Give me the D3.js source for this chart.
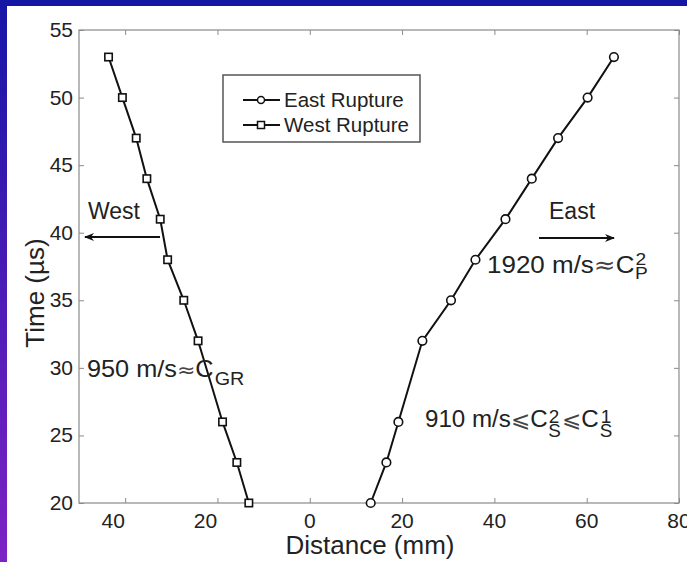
<!DOCTYPE html>
<html>
<head>
<meta charset="utf-8">
<script src="https://cdn.jsdelivr.net/npm/d3@7/dist/d3.min.js"></script>
<style>
html,body{margin:0;padding:0;background:#1515a6;}
svg{display:block;font-family:"Liberation Sans",Arial,sans-serif;}
</style>
</head>
<body>
<svg id="chart" width="687" height="562"></svg>
<script>
// ---- data ----
const eastTimes = [20, 23, 26, 32, 35, 38, 41, 44, 47, 50, 53];
const eastDist  = [13.2, 16.6, 19.2, 24.4, 30.6, 35.9, 42.4, 48.1, 53.8, 60.2, 65.9];
const westTimes = [20, 23, 26, 32, 35, 38, 41, 44, 47, 50, 53];
const westDist  = [-13.2, -15.8, -18.9, -24.2, -27.3, -30.8, -32.4, -35.3, -37.6, -40.6, -43.6];
const xTicks = [-40, -20, 0, 20, 40, 60, 80];
const yTicks = [20, 25, 30, 35, 40, 45, 50, 55];
const seriesNames = ["East Rupture", "West Rupture"];

(function(){
const svg = d3.select("#chart");
const W = 687, H = 562;
const ink = "#222";

// background
const defs = svg.append("defs");
const grad = defs.append("linearGradient").attr("id","leftGrad")
  .attr("x1",0).attr("y1",0).attr("x2",0).attr("y2",1);
grad.append("stop").attr("offset","0%").attr("stop-color","#1515a6");
grad.append("stop").attr("offset","100%").attr("stop-color","#7e22c4");
svg.append("rect").attr("width",W).attr("height",H).attr("fill","#1515a6");
svg.append("rect").attr("width",8).attr("height",H).attr("fill","url(#leftGrad)");
svg.append("rect").attr("x",7).attr("y",6).attr("width",W-7).attr("height",H-6).attr("fill","#ffffff");

const arrow = defs.append("marker").attr("id","arrow")
  .attr("viewBox","0 0 10 10").attr("refX",9).attr("refY",5)
  .attr("markerWidth",6).attr("markerHeight",5).attr("orient","auto-start-reverse")
  .attr("markerUnits","strokeWidth");
arrow.append("path").attr("d","M0,1 L10,5 L0,9 L3,5 Z").attr("fill","#111");

// scales
const pL = 79, pR = 679, pT = 30, pB = 503;
const x = d3.scaleLinear().domain([-50, 80]).range([pL, pR]);
const y = d3.scaleLinear().domain([20, 55]).range([pB, pT]);

const axisColor = "#8a8a8a";
svg.append("rect").attr("x",pL).attr("y",pT).attr("width",pR-pL).attr("height",pB-pT)
  .attr("fill","none").attr("stroke",axisColor).attr("stroke-width",1.2);

// axes with inward ticks on all four sides
const xAxisB = d3.axisTop(x).tickValues(xTicks).tickSize(5).tickFormat("");
const xAxisT = d3.axisBottom(x).tickValues(xTicks).tickSize(5).tickFormat("");
const yAxisL = d3.axisRight(y).tickValues(yTicks).tickSize(5).tickFormat("");
const yAxisR = d3.axisLeft(y).tickValues(yTicks).tickSize(5).tickFormat("");
[[xAxisB,`translate(0,${pB})`],[xAxisT,`translate(0,${pT})`],
 [yAxisL,`translate(${pL},0)`],[yAxisR,`translate(${pR},0)`]].forEach(([ax,tr])=>{
  const g = svg.append("g").attr("transform",tr).call(ax);
  g.select(".domain").remove();
  g.selectAll(".tick line").attr("stroke",axisColor).attr("stroke-width",1);
});

// tick labels (negative values shown without sign, as in the reference)
svg.append("g").selectAll("text").data(xTicks).join("text")
  .attr("x", d => x(d) + (d < 0 ? -12 : 0))
  .attr("y", 528)
  .attr("text-anchor","middle")
  .attr("font-size",21).attr("fill",ink)
  .text(d => Math.abs(d));
svg.append("g").selectAll("text").data(yTicks).join("text")
  .attr("x", 73).attr("y", d => y(d) + 7)
  .attr("text-anchor","end")
  .attr("font-size",21).attr("fill",ink)
  .text(d => d);

// axis titles
svg.append("text").attr("x",370).attr("y",554).attr("text-anchor","middle")
  .attr("font-size",26).attr("fill",ink).text("Distance (mm)");
svg.append("text").attr("transform","translate(44,293) rotate(-90)").attr("text-anchor","middle")
  .attr("font-size",26).attr("fill",ink).text("Time (µs)");

// series
const east = eastTimes.map((t,i)=>({t, d:eastDist[i]}));
const west = westTimes.map((t,i)=>({t, d:westDist[i]}));
const line = d3.line().x(p=>x(p.d)).y(p=>y(p.t));
svg.append("path").datum(east).attr("d",line).attr("fill","none").attr("stroke","#111").attr("stroke-width",2);
svg.append("path").datum(west).attr("d",line).attr("fill","none").attr("stroke","#111").attr("stroke-width",2);
svg.append("g").selectAll("circle").data(east).join("circle")
  .attr("cx",p=>x(p.d)).attr("cy",p=>y(p.t)).attr("r",4.3)
  .attr("fill","#fff").attr("stroke","#111").attr("stroke-width",1.6);
svg.append("g").selectAll("rect").data(west).join("rect")
  .attr("x",p=>x(p.d)-3.7).attr("y",p=>y(p.t)-3.7).attr("width",7.4).attr("height",7.4)
  .attr("fill","#fff").attr("stroke","#111").attr("stroke-width",1.6);

// legend
const lg = svg.append("g");
lg.append("rect").attr("x",223).attr("y",75).attr("width",197).attr("height",67)
  .attr("fill","#fff").attr("stroke","#555").attr("stroke-width",1.5);
seriesNames.forEach((name,i)=>{
  const ly = 100 + i*25;
  lg.append("line").attr("x1",243).attr("x2",280).attr("y1",ly).attr("y2",ly)
    .attr("stroke","#111").attr("stroke-width",2);
  if(i===0){
    lg.append("circle").attr("cx",261).attr("cy",ly).attr("r",3.5)
      .attr("fill","#fff").attr("stroke","#111").attr("stroke-width",1.5);
  } else {
    lg.append("rect").attr("x",257.5).attr("y",ly-3.5).attr("width",7).attr("height",7)
      .attr("fill","#fff").attr("stroke","#111").attr("stroke-width",1.5);
  }
  lg.append("text").attr("x",284).attr("y",ly+7).attr("font-size",20.5).attr("fill",ink).text(name);
});

// annotations
const ann = svg.append("g").attr("fill",ink);
ann.append("text").attr("x",88).attr("y",219).attr("font-size",23).text("West");
svg.append("line").attr("x1",160).attr("y1",237).attr("x2",85).attr("y2",237)
  .attr("stroke","#111").attr("stroke-width",2).attr("marker-end","url(#arrow)");
ann.append("text").attr("x",549).attr("y",219).attr("font-size",23).text("East");
svg.append("line").attr("x1",539).attr("y1",238).attr("x2",614).attr("y2",238)
  .attr("stroke","#111").attr("stroke-width",2).attr("marker-end","url(#arrow)");

const sym = "DejaVu Sans";

// 1920 m/s ≈ C_P^2
const t1 = ann.append("g").attr("transform","translate(487,273) scale(1.13,1)")
  .append("text").attr("font-size",23);
t1.append("tspan").text("1920 m/s");
t1.append("tspan").attr("font-family",sym).attr("font-size",23).attr("fill","#444").text("≈");
t1.append("tspan").text("C");
t1.append("tspan").attr("font-size",17).attr("dx",1).attr("dy",-8).text("2");
t1.append("tspan").attr("font-size",17).attr("dx",-10).attr("dy",14).text("P");

// 950 m/s ≈ C_GR
const t2 = ann.append("g").attr("transform","translate(87,377) scale(1.1,1)")
  .append("text").attr("font-size",23);
t2.append("tspan").text("950 m/s");
t2.append("tspan").attr("font-family",sym).attr("font-size",20).attr("fill","#444").text("≈");
t2.append("tspan").text("C");
t2.append("tspan").attr("font-size",18).attr("dx",1).attr("dy",8).text("GR");

// 910 m/s ⩽ C_S^2 ⩽ C_S^1
const t3 = ann.append("g").attr("transform","translate(425,427) scale(1.05,1)")
  .append("text").attr("font-size",23);
t3.append("tspan").text("910 m/s");
t3.append("tspan").attr("font-family",sym).attr("font-size",22).attr("fill","#444").text("⩽");
t3.append("tspan").text("C");
t3.append("tspan").attr("font-size",18).attr("dx",1).attr("dy",-4).text("2");
t3.append("tspan").attr("font-size",18).attr("dx",-10.5).attr("dy",14).text("S");
t3.append("tspan").attr("font-family",sym).attr("font-size",22).attr("fill","#444").attr("dx",1).attr("dy",-10).text("⩽");
t3.append("tspan").text("C");
t3.append("tspan").attr("font-size",18).attr("dx",2).attr("dy",-4).text("1");
t3.append("tspan").attr("font-size",18).attr("dx",-11).attr("dy",14).text("S");
})();
</script>
</body>
</html>
